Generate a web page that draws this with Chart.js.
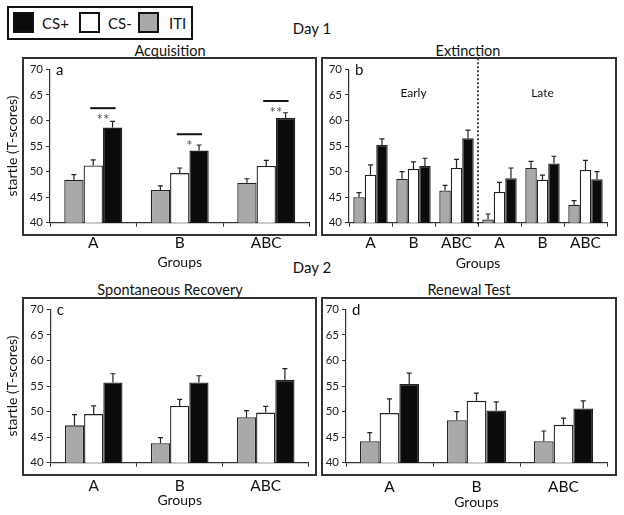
<!DOCTYPE html>
<html>
<head>
<meta charset="utf-8">
<script src="https://cdn.jsdelivr.net/npm/chart.js"></script>
<style>
  body { margin: 0; width: 624px; height: 515px; position: relative; background: #fff; font-family: Lato, sans-serif; color: #111; overflow: hidden; }
  .t { position: absolute; transform: translate(-50%, -50%); white-space: nowrap; }
  .box { position: absolute; border: 2px solid #333; box-sizing: border-box; }
  .swatch { position: absolute; width: 21px; height: 21px; border: 2px solid #111; box-sizing: border-box; }
  .leg { position: absolute; font-size: 15px; line-height: 15px; }
  canvas { position: absolute; }
</style>
</head>
<body>
<!-- legend -->
<div class="box" style="left:7px;top:6px;width:186px;height:34px;border-color:#111;border-width:2.5px"></div>
<div class="swatch" style="left:13px;top:12px;background:#0b0b0b"></div>
<div class="leg" style="left:42px;top:16px">CS+</div>
<div class="swatch" style="left:79px;top:12px;background:#fff"></div>
<div class="leg" style="left:108px;top:16px">CS-</div>
<div class="swatch" style="left:138px;top:12px;background:#a9a9a9"></div>
<div class="leg" style="left:169px;top:16px">ITI</div>

<div class="t" style="left:312px;top:28px;font-size:15px">Day 1</div>
<div class="t" style="left:312px;top:267px;font-size:15px">Day 2</div>

<div class="t" style="left:170px;top:50px;font-size:14.5px">Acquisition</div>
<div class="t" style="left:468px;top:50px;font-size:14.5px">Extinction</div>
<div class="t" style="left:170px;top:289px;font-size:14.5px">Spontaneous Recovery</div>
<div class="t" style="left:469px;top:289px;font-size:14.5px">Renewal Test</div>

<div class="box" style="left:22px;top:57px;width:295px;height:179px"></div>
<div class="box" style="left:321px;top:57px;width:296px;height:179px"></div>
<div class="box" style="left:22px;top:297px;width:295px;height:179px"></div>
<div class="box" style="left:321px;top:297px;width:296px;height:179px"></div>

<canvas id="acq" width="318" height="235" style="left:0;top:40px"></canvas>
<canvas id="ext" width="306" height="235" style="left:318px;top:40px"></canvas>
<canvas id="spont" width="318" height="235" style="left:0;top:280px"></canvas>
<canvas id="renew" width="306" height="235" style="left:318px;top:280px"></canvas>

<script>
const groups = ['A', 'B', 'ABC'];
const extGroups = ['A', 'B', 'ABC', 'A', 'B', 'ABC'];

// a: acquisition
const acqITI = [48.4, 46.4, 47.8];
const acqCSminus = [51.2, 49.7, 51.1];
const acqCSplus = [58.6, 54.1, 60.5];
const acqITIsem = [1.0, 0.8, 0.8];
const acqCSminusSem = [1.1, 1.0, 1.1];
const acqCSplusSem = [1.2, 1.1, 1.0];
const acqSig = ['**', '*', '**'];
const acqSigLine = [62.4, 57.3, 63.8];

// b: extinction (early A, B, ABC then late A, B, ABC)
const extITI = [45.0, 48.6, 46.3, 40.65, 50.7, 43.5];
const extCSminus = [49.4, 50.5, 50.7, 46.0, 48.4, 50.3];
const extCSplus = [55.2, 51.1, 56.5, 48.7, 51.6, 48.5];
const extITIsem = [0.9, 1.4, 1.0, 1.05, 1.3, 0.8];
const extCSminusSem = [1.9, 1.4, 1.7, 1.9, 0.9, 1.9];
const extCSplusSem = [1.2, 1.5, 1.6, 2.0, 1.4, 1.5];

// c: spontaneous recovery
const spITI = [47.3, 43.8, 48.9];
const spCSminus = [49.5, 51.1, 49.8];
const spCSplus = [55.7, 55.7, 56.2];
const spITIsem = [2.1, 1.1, 1.3];
const spCSminusSem = [1.6, 1.3, 1.2];
const spCSplusSem = [1.7, 1.3, 2.2];

// d: renewal test
const rnITI = [44.2, 48.3, 44.2];
const rnCSminus = [49.7, 52.1, 47.4];
const rnCSplus = [55.4, 50.2, 50.6];
const rnITIsem = [1.7, 1.7, 2.0];
const rnCSminusSem = [2.8, 1.5, 1.3];
const rnCSplusSem = [2.1, 1.7, 1.5];

Chart.defaults.font.family = 'Lato';
Chart.defaults.color = '#111';

const panelExtras = {
  id: 'panelExtras',
  afterDatasetsDraw(chart, args, opts) {
    const ctx = chart.ctx;
    const xs = chart.scales.x;
    const ys = chart.scales.y;
    const area = chart.chartArea;
    ctx.save();
    // error bars
    ctx.strokeStyle = '#222';
    ctx.lineWidth = 1.2;
    chart.data.datasets.forEach((ds, d) => {
      chart.getDatasetMeta(d).data.forEach((bar, j) => {
        const top = ys.getPixelForValue(ds.data[j] + ds.sem[j]);
        ctx.beginPath();
        ctx.moveTo(bar.x, bar.y);
        ctx.lineTo(bar.x, top);
        ctx.moveTo(bar.x - 2.5, top);
        ctx.lineTo(bar.x + 2.5, top);
        ctx.stroke();
      });
    });
    // panel letter
    ctx.fillStyle = '#111';
    ctx.font = '15px Lato';
    ctx.textAlign = 'left';
    ctx.textBaseline = 'middle';
    ctx.fillText(opts.letter, area.left + 6, area.top + 1);
    // significance
    if (opts.sig) {
      const white = chart.getDatasetMeta(1).data;
      const black = chart.getDatasetMeta(2).data;
      opts.sig.forEach((s, i) => {
        const x1 = white[i].x - 3, x2 = black[i].x + 3;
        const y = ys.getPixelForValue(opts.sigLine[i]);
        ctx.strokeStyle = '#111';
        ctx.lineWidth = 2;
        ctx.beginPath();
        ctx.moveTo(x1, y);
        ctx.lineTo(x2, y);
        ctx.stroke();
        ctx.fillStyle = '#555';
        ctx.font = '15px Lato';
        ctx.textAlign = 'center';
        ctx.fillText(s, (x1 + x2) / 2, y + 12);
      });
    }
    // early / late
    if (opts.phases) {
      ctx.fillStyle = '#111';
      ctx.font = '12px Lato';
      ctx.textAlign = 'center';
      opts.phases.forEach(p => ctx.fillText(p.text, xs.getPixelForValue(p.at), area.top + 24));
    }
    if (opts.divider !== undefined) {
      const x = xs.getPixelForValue(opts.divider);
      ctx.strokeStyle = '#111';
      ctx.lineWidth = 1.5;
      ctx.setLineDash([2, 2]);
      ctx.beginPath();
      ctx.moveTo(x, area.top - 11);
      ctx.lineTo(x, area.bottom + 2);
      ctx.stroke();
    }
    ctx.restore();
  }
};

function makePanel(id, labels, iti, csm, csp, itiSem, csmSem, cspSem, geo, extra) {
  return new Chart(document.getElementById(id), {
    type: 'bar',
    data: {
      labels: labels,
      datasets: [
        { label: 'ITI', data: iti, sem: itiSem, backgroundColor: '#a9a9a9' },
        { label: 'CS-', data: csm, sem: csmSem, backgroundColor: '#ffffff' },
        { label: 'CS+', data: csp, sem: cspSem, backgroundColor: '#0b0b0b' }
      ]
    },
    plugins: [panelExtras],
    options: {
      responsive: false,
      animation: false,
      layout: { padding: { top: geo.top, right: geo.right, left: 0, bottom: 0 } },
      datasets: { bar: { barPercentage: 1, categoryPercentage: geo.cat, borderColor: '#222', borderWidth: 1.3 } },
      plugins: { legend: { display: false }, tooltip: { enabled: false }, panelExtras: extra },
      scales: {
        x: {
          grid: { drawOnChartArea: false, tickLength: 4, color: '#333' },
          border: { color: '#333', width: 1.2 },
          ticks: { font: { size: 15.5 }, padding: geo.tickPad, maxRotation: 0, autoSkip: false },
          title: { display: true, text: 'Groups', font: { size: 14 }, padding: { top: 0, bottom: geo.titlePad } },
          afterFit: s => { s.height = geo.xh; }
        },
        y: {
          min: 40,
          max: 70,
          grid: { drawOnChartArea: false, tickLength: 4, color: '#333' },
          border: { color: '#333', width: 1.2 },
          ticks: { stepSize: 5, font: { size: 11.5 }, padding: 3, color: '#222' },
          title: { display: geo.ytitle, text: 'startle (T-scores)', font: { size: 14 }, padding: { top: 3.6, bottom: 0 } },
          afterFit: s => { s.width = geo.yw; }
        }
      }
    }
  });
}

makePanel('acq', groups, acqITI, acqCSminus, acqCSplus, acqITIsem, acqCSminusSem, acqCSplusSem,
  { top: 29.3, right: 8.5, yw: 50, xh: 52.3, cat: 0.67, tickPad: 7, titlePad: 4.6, ytitle: true },
  { letter: 'a', sig: acqSig, sigLine: acqSigLine });

makePanel('ext', extGroups, extITI, extCSminus, extCSplus, extITIsem, extCSminusSem, extCSplusSem,
  { top: 29.3, right: 17, yw: 31, xh: 52.3, cat: 0.8, tickPad: 6.5, titlePad: 3.4, ytitle: false },
  { letter: 'b', phases: [{ text: 'Early', at: 1 }, { text: 'Late', at: 4 }], divider: 2.5 });

makePanel('spont', groups, spITI, spCSminus, spCSplus, spITIsem, spCSminusSem, spCSplusSem,
  { top: 29.3, right: 9.3, yw: 50.7, xh: 52.3, cat: 0.67, tickPad: 10, titlePad: 6.6, ytitle: true },
  { letter: 'c' });

makePanel('renew', groups, rnITI, rnCSminus, rnCSplus, rnITIsem, rnCSminusSem, rnCSplusSem,
  { top: 29.3, right: 17, yw: 28, xh: 52.3, cat: 0.68, tickPad: 11, titlePad: 4, ytitle: false },
  { letter: 'd' });
</script>
</body>
</html>
